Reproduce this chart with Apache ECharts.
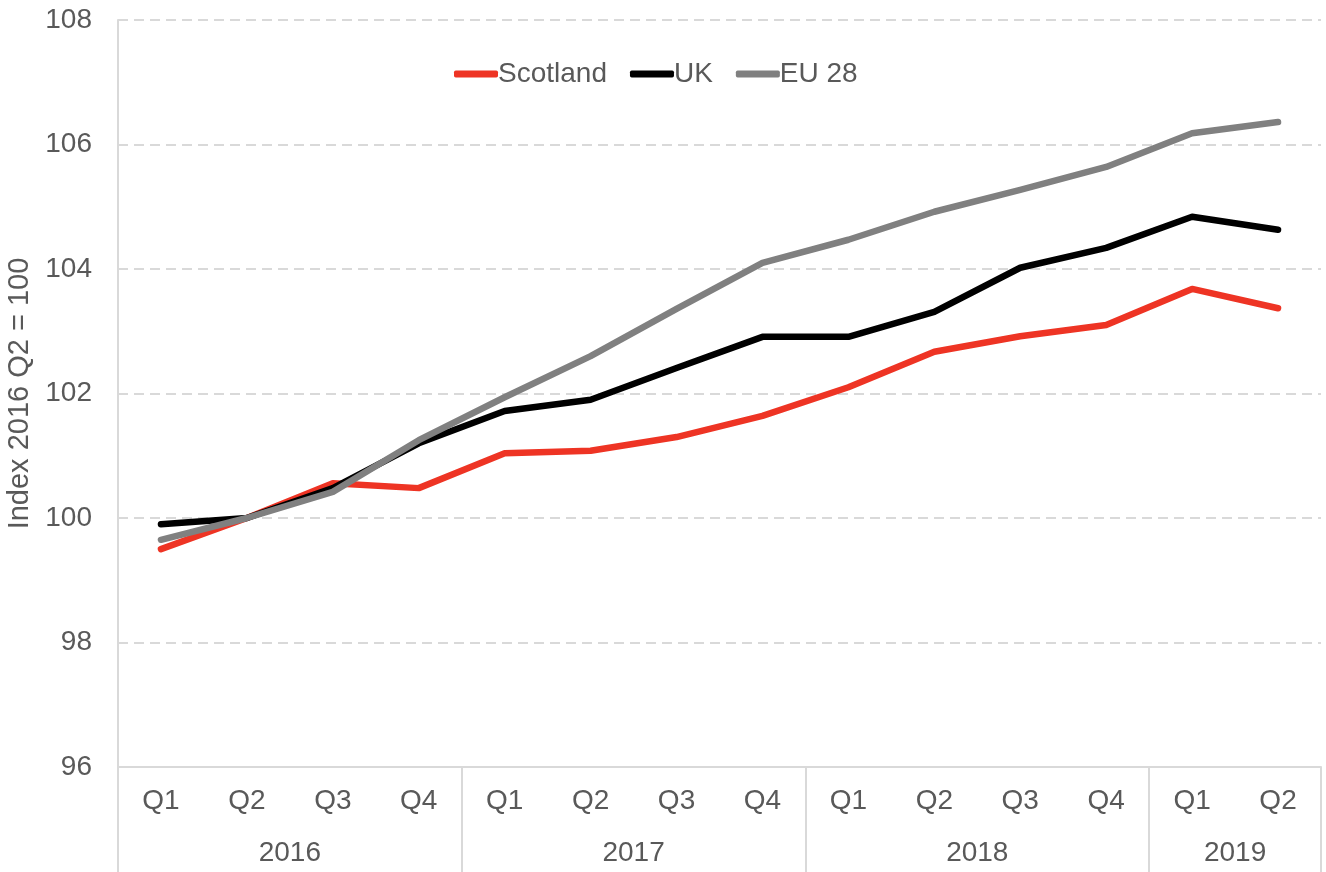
<!DOCTYPE html>
<html>
<head>
<meta charset="utf-8">
<script src="https://cdn.jsdelivr.net/npm/echarts@6/dist/echarts.min.js"></script>
<style>
  html, body { margin: 0; padding: 0; background: #fff; }
  #chart { width: 1326px; height: 872px; }
</style>
</head>
<body>
<div id="chart"></div>
<script>
// Quarterly index, 2016 Q2 = 100
const quarters = ['Q1', 'Q2', 'Q3', 'Q4', 'Q1', 'Q2', 'Q3', 'Q4', 'Q1', 'Q2', 'Q3', 'Q4', 'Q1', 'Q2'];
const years = ['2016', '2017', '2018', '2019'];
const quartersPerYear = [4, 4, 4, 2];

const scotland = [99.50, 100.0, 100.56, 100.48, 101.04, 101.08, 101.30, 101.64, 102.10, 102.67, 102.92, 103.10, 103.68, 103.37];
const uk       = [99.90, 100.0, 100.48, 101.20, 101.72, 101.90, 102.41, 102.91, 102.91, 103.31, 104.02, 104.34, 104.84, 104.63];
const eu28     = [99.65, 100.0, 100.42, 101.25, 101.94, 102.60, 103.36, 104.10, 104.47, 104.92, 105.27, 105.64, 106.18, 106.36];

// Year group boundaries and centres on a 0..N scale
const bounds = [0];
quartersPerYear.forEach(n => bounds.push(bounds[bounds.length - 1] + n));
const centres = quartersPerYear.map((n, i) => bounds[i] + n / 2);

const textColor = '#595959';
const lineGrey = '#d9d9d9';
const font = 'Liberation Sans, Arial, sans-serif';
const fs = 28;

const chart = echarts.init(document.getElementById('chart'));
chart.setOption({
  animation: false,
  textStyle: { fontFamily: font },
  grid: { left: 118, right: 5, top: 20, bottom: 105, containLabel: false, outerBoundsMode: 'none' },
  legend: {
    top: 55,
    left: 449,
    itemWidth: 44,
    itemHeight: 7,
    itemGap: 23,
    icon: 'roundRect',
    textStyle: { color: textColor, fontSize: fs, fontFamily: font, padding: [0, 0, 0, -5] },
    data: ['Scotland', 'UK', 'EU 28']
  },
  xAxis: [
    {
      type: 'category',
      data: quarters,
      boundaryGap: true,
      axisLine: { show: true, lineStyle: { color: lineGrey, width: 2 } },
      axisTick: { show: false },
      axisLabel: { color: textColor, fontSize: fs, margin: 20, fontFamily: font },
      splitLine: { show: false }
    },
    {
      type: 'value',
      position: 'bottom',
      min: 0,
      max: bounds[bounds.length - 1],
      axisLine: { show: false },
      axisTick: {
        show: true,
        customValues: bounds,
        length: 106,
        lineStyle: { color: lineGrey, width: 2 }
      },
      axisLabel: {
        show: true,
        customValues: centres,
        formatter: v => years[centres.indexOf(v)],
        color: textColor,
        fontSize: fs,
        margin: 72,
        fontFamily: font
      },
      splitLine: { show: false }
    }
  ],
  yAxis: {
    type: 'value',
    min: 96,
    max: 108,
    interval: 2,
    name: 'Index 2016 Q2 = 100',
    nameLocation: 'middle',
    nameGap: 78,
    nameTextStyle: { color: textColor, fontSize: 29, fontFamily: font },
    axisLine: { show: true, lineStyle: { color: lineGrey, width: 2 } },
    axisTick: { show: false },
    axisLabel: { color: textColor, fontSize: fs, margin: 26, fontFamily: font },
    splitLine: { show: true, lineStyle: { color: lineGrey, type: [10, 6], width: 2 } }
  },
  series: [
    {
      name: 'Scotland', type: 'line', data: scotland, xAxisIndex: 0,
      symbol: 'none', itemStyle: { color: '#ee3424' },
      lineStyle: { color: '#ee3424', width: 6.5, cap: 'round', join: 'round' }, z: 3
    },
    {
      name: 'UK', type: 'line', data: uk, xAxisIndex: 0,
      symbol: 'none', itemStyle: { color: '#000000' },
      lineStyle: { color: '#000000', width: 6.5, cap: 'round', join: 'round' }, z: 4
    },
    {
      name: 'EU 28', type: 'line', data: eu28, xAxisIndex: 0,
      symbol: 'none', itemStyle: { color: '#808080' },
      lineStyle: { color: '#808080', width: 6.5, cap: 'round', join: 'round' }, z: 5
    }
  ]
});
</script>
</body>
</html>
